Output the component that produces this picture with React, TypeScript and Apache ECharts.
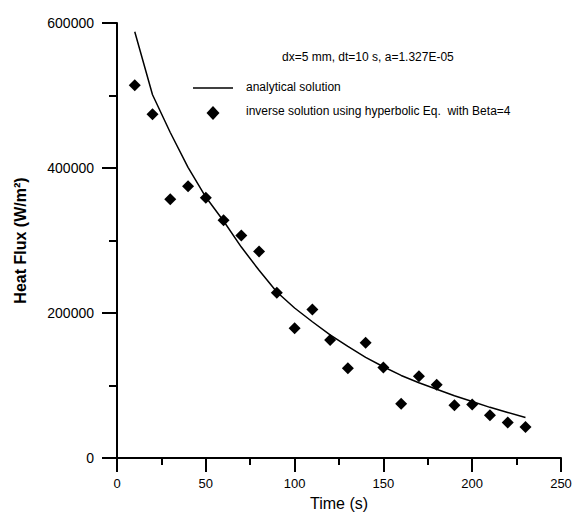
import React, { useEffect, useRef } from "react";
import * as echarts from "echarts";

const times = [10, 20, 30, 40, 50, 60, 70, 80, 90, 100, 110, 120, 130, 140, 150, 160, 170, 180, 190, 200, 210, 220, 230];
const analytical = [588000, 501000, 449000, 401000, 360000, 327000, 291000, 259000, 229000, 207000, 188000, 170000, 154000, 139000, 126000, 114000, 104000, 95000, 86000, 78000, 70000, 63000, 56000];
const inverse = [514000, 474000, 357000, 375000, 359000, 328000, 307000, 285000, 228000, 179000, 205000, 163000, 124000, 159000, 125000, 75000, 113000, 101000, 73000, 74000, 59000, 49000, 43000];

const legendLabels = ["analytical solution", "inverse solution using hyperbolic Eq.  with Beta=4"];
const annotation = "dx=5 mm, dt=10 s, a=1.327E-05";

const FONT = "'Liberation Sans', Arial, Helvetica, sans-serif";

export default function App() {
  const ref = useRef<HTMLDivElement>(null);
  useEffect(() => {
    if (!ref.current) return;
    const chart = echarts.init(ref.current, null, { renderer: "svg" });
    chart.setOption({
      animation: false,
      backgroundColor: "#ffffff",
      textStyle: { fontFamily: FONT, color: "#000" },
      grid: { left: 117, right: 19, top: 23, bottom: 54 },
      graphic: [
        {
          type: "text",
          left: 282,
          top: 51,
          style: { text: annotation, font: `12px ${FONT}`, fill: "#000" },
        },
        {
          type: "line",
          shape: { x1: 193, y1: 88, x2: 233, y2: 88 },
          style: { stroke: "#000", lineWidth: 1.5 },
        },
        {
          type: "text",
          left: 246,
          top: 81,
          style: { text: legendLabels[0], font: `12px ${FONT}`, fill: "#000" },
        },
        {
          type: "polygon",
          shape: { points: [[213, 106], [219.5, 113], [213, 120], [206.5, 113]] },
          style: { fill: "#000" },
        },
        {
          type: "text",
          left: 246,
          top: 105,
          style: { text: legendLabels[1], font: `12px ${FONT}`, fill: "#000" },
        },
      ],
      xAxis: {
        type: "value",
        min: 0,
        max: 250,
        interval: 50,
        name: "Time (s)",
        nameLocation: "middle",
        nameGap: 34,
        nameTextStyle: { fontFamily: FONT, fontSize: 16, color: "#000" },
        axisLine: { lineStyle: { color: "#000", width: 2 } },
        axisTick: { length: 14, lineStyle: { color: "#000", width: 2 } },
        minorTick: { show: true, splitNumber: 2, length: 7, lineStyle: { color: "#000", width: 2 } },
        splitLine: { show: false },
        axisLabel: { margin: 19, fontFamily: FONT, fontSize: 13, color: "#000" },
      },
      yAxis: {
        type: "value",
        min: 0,
        max: 600000,
        interval: 200000,
        name: "Heat Flux (W/m²)",
        nameLocation: "middle",
        nameGap: 89,
        nameTextStyle: { fontFamily: FONT, fontSize: 16, fontWeight: "bold", color: "#000" },
        axisLine: { show: true, lineStyle: { color: "#000", width: 2 } },
        axisTick: { show: true, length: 15, lineStyle: { color: "#000", width: 2 } },
        minorTick: { show: true, splitNumber: 2, length: 8, lineStyle: { color: "#000", width: 2 } },
        splitLine: { show: false },
        axisLabel: {
          margin: 23,
          fontFamily: FONT,
          fontSize: 14,
          color: "#000",
          formatter: (v: number) => String(v),
        },
      },
      series: [
        {
          name: legendLabels[0],
          type: "line",
          data: times.map((t, i) => [t, analytical[i]]),
          symbol: "none",
          lineStyle: { color: "#000", width: 1.5 },
          itemStyle: { color: "#000" },
        },
        {
          name: legendLabels[1],
          type: "scatter",
          data: times.map((t, i) => [t, inverse[i]]),
          symbol: "diamond",
          symbolSize: 12,
          itemStyle: { color: "#000", opacity: 1 },
        },
      ],
    });
    return () => chart.dispose();
  }, []);
  return <div ref={ref} style={{ width: 580, height: 516, position: "absolute", left: 0, top: 0 }} />;
}
